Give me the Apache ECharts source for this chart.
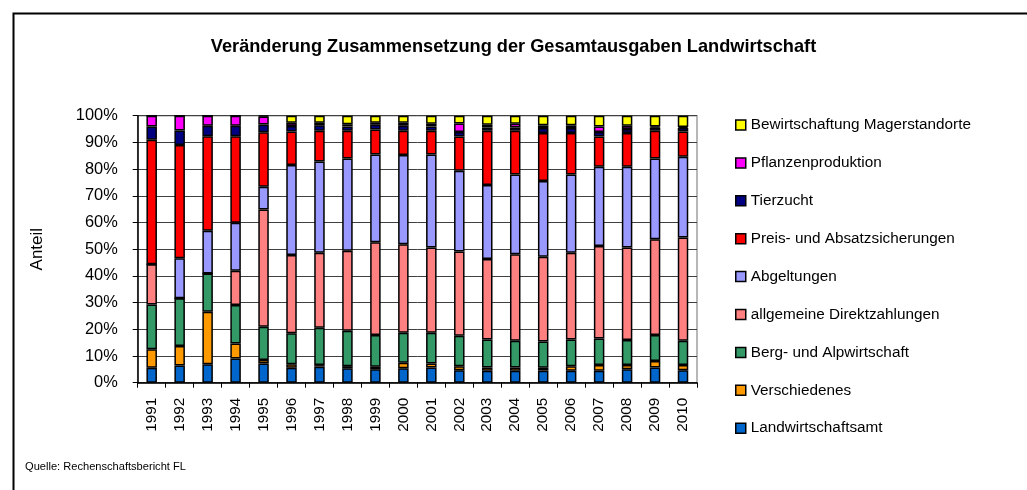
<!DOCTYPE html>
<html>
<head>
<meta charset="utf-8">
<script src="https://cdn.jsdelivr.net/npm/echarts@6/dist/echarts.min.js"></script>
<style>
html,body{margin:0;padding:0;background:#fff;}
#chart{width:1027px;height:490px;}
</style>
</head>
<body>
<div id="chart"></div>
<script>
// ---- data (percent shares) ----
const years = ['1991','1992','1993','1994','1995','1996','1997','1998','1999','2000',
               '2001','2002','2003','2004','2005','2006','2007','2008','2009','2010'];
const landwirtschaftsamt = [5.6,6.4,6.9,9.1,7.2,5.6,6.0,5.4,5.0,5.4,5.7,4.7,4.5,4.5,4.5,4.5,4.5,5.0,5.7,4.7];
const verschiedenes      = [6.9,7.3,19.7,5.6,1.3,1.3,0.6,0.8,1.0,2.1,1.5,1.5,1.2,1.2,1.1,1.7,2.1,1.6,2.4,1.9];
const bergAlpwirtschaft  = [16.8,17.9,14.3,14.4,12.5,11.6,14.0,13.3,11.9,11.2,11.5,11.4,10.5,10.0,9.8,10.0,10.0,9.4,9.8,9.1];
const allgDirektzahlungen= [15.1,0,0,12.8,43.9,29.3,28.1,29.9,34.7,33.2,31.9,31.5,30.1,32.4,31.8,32.5,34.6,34.6,35.8,38.7];
const abgeltungen        = [0,15.0,16.0,18.0,8.5,33.7,34.1,34.6,32.9,33.4,34.9,30.3,27.7,29.9,28.3,29.3,29.7,30.3,30.3,30.2];
const preisAbsatz        = [46.6,42.4,35.4,32.4,20.4,12.6,11.6,10.4,9.3,9.1,8.9,12.8,20.4,16.4,18.0,15.5,11.3,12.6,10.4,9.5];
const tierzucht          = [5.0,5.5,3.9,3.9,2.9,2.0,2.0,1.6,1.8,1.8,1.6,1.7,1.2,1.2,1.9,1.9,1.7,1.5,1.2,1.3];
const pflanzenproduktion = [4.0,5.5,3.8,3.8,3.0,1.3,1.0,0.8,0.8,1.2,1.0,3.2,1.0,1.4,1.0,1.0,2.1,1.2,0.4,0.4];
const magerstandorte     = [0,0,0,0,0.3,2.6,2.6,3.2,2.6,2.6,3.0,2.9,3.4,3.0,3.6,3.6,4.0,3.8,4.0,4.2];
const yTickLabels = ['0%','10%','20%','30%','40%','50%','60%','70%','80%','90%','100%'];

const seriesDefs = [
  ['Landwirtschaftsamt', landwirtschaftsamt, '#0066CC'],
  ['Verschiedenes', verschiedenes, '#FF9900'],
  ['Berg- und Alpwirtschaft', bergAlpwirtschaft, '#339966'],
  ['allgemeine Direktzahlungen', allgDirektzahlungen, '#FF8080'],
  ['Abgeltungen', abgeltungen, '#9999FF'],
  ['Preis- und Absatzsicherungen', preisAbsatz, '#FF0000'],
  ['Tierzucht', tierzucht, '#000080'],
  ['Pflanzenproduktion', pflanzenproduktion, '#FF00FF'],
  ['Bewirtschaftung Magerstandorte', magerstandorte, '#FFFF00']
];

const FONT = "'Liberation Sans',Arial,sans-serif";

const chart = echarts.init(document.getElementById('chart'), null, {renderer:'canvas'});
chart.setOption({
  animation: false,
  backgroundColor: '#fff',
  textStyle: {fontFamily: FONT, color: '#000'},
  title: {
    text: 'Veränderung Zusammensetzung der Gesamtausgaben Landwirtschaft',
    left: 'center', top: 36, padding: 0,
    textStyle: {fontFamily: FONT, fontWeight: 'bold', fontSize: 18.2, color: '#000', lineHeight: 22}
  },
  legend: {
    orient: 'vertical', left: 735, top: 116, padding: 0,
    itemWidth: 10, itemHeight: 10, itemGap: 19.9,
    icon: 'rect',
    data: seriesDefs.map(d => d[0]).reverse(),
    itemStyle: {borderColor: '#000', borderWidth: 1.5},
    textStyle: {fontFamily: FONT, fontSize: 15.3, color: '#000', lineHeight: 18}
  },
  grid: {
    left: 137.7, top: 115.7, width: 559.3, height: 267,
    show: true, borderColor: '#a0a0a0', borderWidth: 1.5
  },
  xAxis: {
    type: 'category', data: years,
    axisLine: {lineStyle: {color: '#000', width: 1.5}},
    axisTick: {show: true, alignWithLabel: false, length: 5, lineStyle: {color: '#000', width: 1}},
    axisLabel: {rotate: 90, margin: 15, fontFamily: FONT, fontSize: 15.3, color: '#000', interval: 0}
  },
  yAxis: {
    type: 'value', min: 0, max: 100, interval: 10,
    name: 'Anteil', nameLocation: 'middle', nameGap: 92, nameRotate: 90,
    nameTextStyle: {fontFamily: FONT, fontSize: 17, color: '#000'},
    axisLine: {show: true, lineStyle: {color: '#000', width: 1.5}},
    axisTick: {show: true, length: 5, lineStyle: {color: '#000'}},
    splitLine: {show: true, lineStyle: {color: '#404040', width: 1}},
    axisLabel: {
      margin: 20, fontFamily: FONT, fontSize: 16.4, color: '#000',
      formatter: v => yTickLabels[Math.round(v / 10)]
    }
  },
  graphic: [
    {type: 'rect', left: 11, top: 11, z: 100, silent: true,
     shape: {width: 1100, height: 600},
     style: {fill: 'none', stroke: '#000', lineWidth: 2}},
    {type: 'text', left: 25, top: 461,
     style: {text: 'Quelle: Rechenschaftsbericht FL', font: "11.1px 'Liberation Sans',Arial,sans-serif", fill: '#000'}}
  ],
  series: seriesDefs.map(d => ({
    name: d[0], type: 'bar', stack: 'total', data: d[1],
    barWidth: 10.5,
    itemStyle: {color: d[2], borderColor: '#000', borderWidth: 1.5}
  }))
});
</script>
</body>
</html>
